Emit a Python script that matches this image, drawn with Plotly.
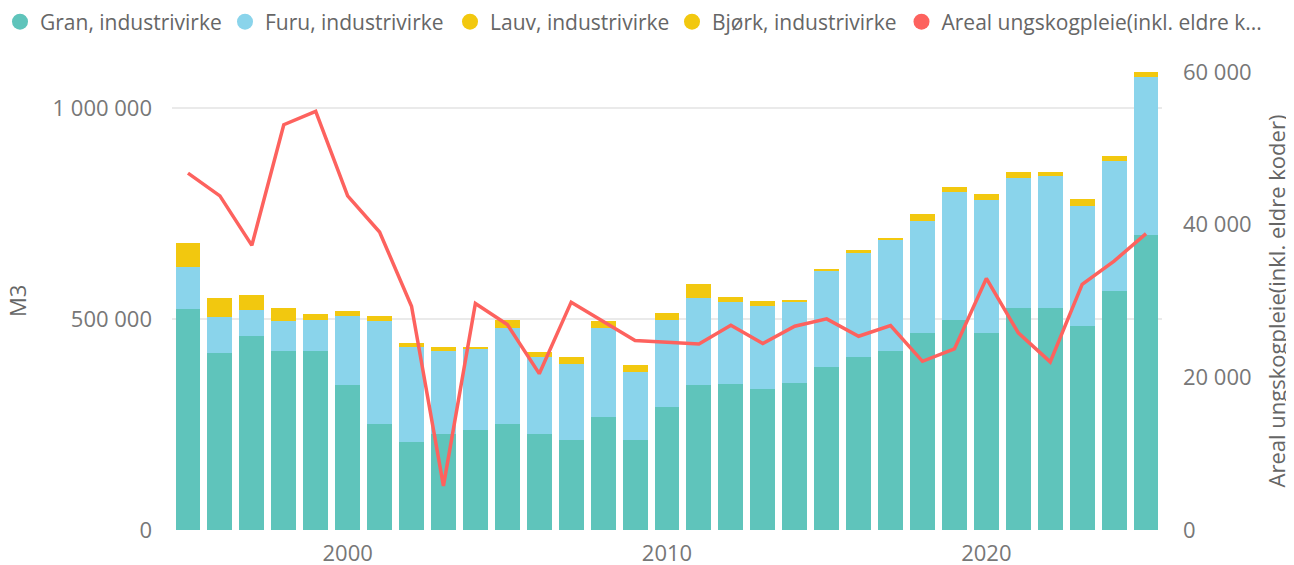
import plotly.graph_objects as go

years = list(range(1995, 2026))
gran = [524000, 419000, 460000, 425000, 425000, 344000, 251000, 209000, 228000, 236000,
        250000, 228000, 214000, 268000, 213000, 291000, 344000, 345000, 335000, 349000,
        385000, 409000, 423000, 466000, 498000, 466000, 526000, 526000, 484000, 567000, 698000]
furu = [98000, 86000, 62000, 71000, 73000, 162000, 245000, 225000, 197000, 192000,
        228000, 181000, 179000, 210000, 161000, 207000, 206000, 194000, 196000, 190000,
        229000, 247000, 263000, 267000, 302000, 315000, 309000, 313000, 284000, 306000, 375000]
lauv = [59000, 45000, 34000, 31000, 14000, 13000, 11000, 8000, 8000, 5000,
        19000, 13000, 18000, 18000, 18000, 17000, 33000, 12000, 11000, 5000,
        4000, 7000, 6000, 15000, 13000, 16000, 13000, 8000, 16000, 14000, 12000]
bjork = [0] * 31
areal = [46750, 43770, 37290, 53090, 54840, 43770, 39040, 29320, 5780, 29670,
         26920, 20480, 29850, 27350, 24820, 24600, 24380, 26830, 24420, 26700,
         27660, 25380, 26790, 22100, 23720, 32960, 25820, 22020, 32170, 35230, 38820]

names = ["Gran, industrivirke", "Furu, industrivirke", "Lauv, industrivirke",
         "Bjørk, industrivirke", "Areal ungskogpleie(inkl. eldre k..."]
colors = ["#5FC4BB", "#8AD4EB", "#F2C80F", "#F2C80F", "#FD625E"]
legend_ids = ["legend", "legend", "legend", "legend2", "legend2"]
left_title = "M3"
right_title = "Areal ungskogpleie(inkl. eldre koder)"

FONT = "Segoe UI, Open Sans, sans-serif"
fig = go.Figure()
for vals, nm, col in zip([gran, furu, lauv, bjork], names[:4], colors[:4]):
    fig.add_trace(go.Bar(x=years, y=vals, name=nm, marker=dict(color=col, line=dict(width=0)),
                         showlegend=False, legendgroup=nm))
fig.add_trace(go.Scatter(x=years, y=areal, name=names[4], mode="lines", yaxis="y2",
                         line=dict(color=colors[4], width=3.5), showlegend=False,
                         legendgroup=names[4]))
# legend entries with round markers
for nm, col, lg in zip(names, colors, legend_ids):
    fig.add_trace(go.Scatter(x=[None], y=[None], mode="markers", name=nm, legendgroup=nm,
                             legend=lg, marker=dict(symbol="circle", size=20, color=col)))

# page body has an 8px margin at top/left; figure is sized to fill the rest of the window
W, H = 1286, 557
ML, MR, MT, MB = 164, 132, 64, 35
plot_w = W - ML - MR
plot_h = H - MT - MB
PLOT_X0 = 8 + ML  # page x of plot left edge

common_leg = dict(orientation="h", yanchor="middle", y=1 + 50 / plot_h, xanchor="left",
                  font=dict(size=21, color="#666666", family=FONT),
                  itemsizing="trace", itemwidth=30, tracegroupgap=0,
                  traceorder="normal", bgcolor="rgba(0,0,0,0)")

fig.update_layout(
    width=W, height=H,
    barmode="stack", bargap=0.22,
    paper_bgcolor="white", plot_bgcolor="white",
    separators=", ",
    font=dict(family=FONT, color="#777777"),
    margin=dict(l=ML, r=MR, t=MT, b=MB, autoexpand=False),
    legend=dict(common_leg, x=(0 - PLOT_X0) / plot_w, entrywidth=180, entrywidthmode="pixels"),
    legend2=dict(common_leg, x=(672 - PLOT_X0) / plot_w),
    xaxis=dict(range=[1994.5, 2025.5], tickvals=[2000, 2010, 2020], showgrid=False,
               zeroline=False, showline=False, ticks="", ticklabelstandoff=8,
               tickfont=dict(size=22, color="#777777")),
    yaxis=dict(range=[0, 1085000], tickvals=[0, 500000, 1000000], tickformat=",d",
               showgrid=True, gridcolor="#EAEAEA", gridwidth=1.5, zeroline=False,
               ticks="", ticklabelstandoff=19, tickfont=dict(size=22, color="#777777")),
    yaxis2=dict(range=[0, 60000], tickvals=[0, 20000, 40000, 60000], tickformat=",d",
                overlaying="y", side="right", showgrid=False, zeroline=False,
                ticks="", ticklabelstandoff=20, tickfont=dict(size=22, color="#777777"),
                title=dict(text=right_title, standoff=18,
                           font=dict(size=22, color="#666666"))),
    annotations=[dict(text=left_title, textangle=-90, showarrow=False,
                      xref="paper", yref="paper", x=(17 - PLOT_X0) / plot_w, y=0.5,
                      xanchor="center", yanchor="middle",
                      font=dict(size=22, color="#666666", family=FONT))],
)
fig.write_html("out.html")
